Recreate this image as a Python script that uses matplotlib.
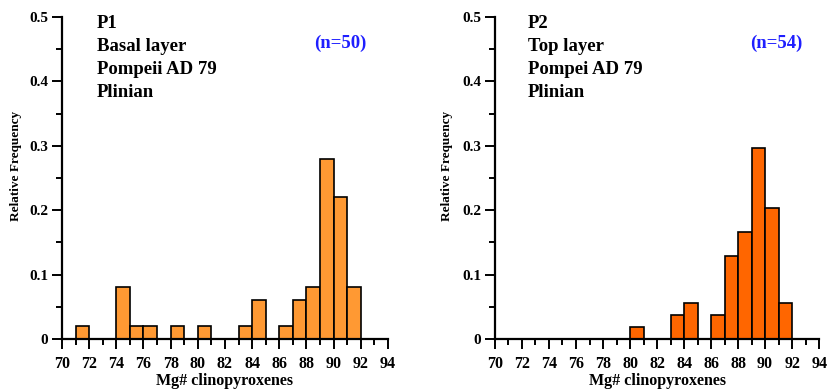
import numpy as np
import matplotlib
matplotlib.use("Agg")
import matplotlib.pyplot as plt
from matplotlib.ticker import MultipleLocator, FuncFormatter

plt.rcParams['font.family'] = ['Liberation Serif', 'DejaVu Serif']
plt.rcParams['font.weight'] = 'bold'

# Mg# bins (left edge, width 1) and relative frequencies
p1_bins = [71, 74, 75, 76, 78, 80, 83, 84, 86, 87, 88, 89, 90, 91]
p1_freq = [0.02, 0.08, 0.02, 0.02, 0.02, 0.02, 0.02, 0.06, 0.02, 0.06, 0.08, 0.28, 0.22, 0.08]

p2_bins = [80, 83, 84, 86, 87, 88, 89, 90, 91]
p2_freq = [1/54, 2/54, 3/54, 2/54, 7/54, 9/54, 16/54, 11/54, 3/54]

p1_text = ["P1", "Basal layer", "Pompeii AD 79", "Plinian"]
p2_text = ["P2", "Top layer", "Pompei AD 79", "Plinian"]
p1_n = "(n=50)"
p2_n = "(n=54)"

fig = plt.figure(figsize=(8.27, 3.91), dpi=100)
ax1 = fig.add_axes([0.075, 0.133, 0.394, 0.8235])
ax2 = fig.add_axes([0.5985, 0.133, 0.392, 0.8235])


def draw_panel(ax, bins, freq, color, lines, tx, ntext, nx, ylab_x):
    ax.bar(bins, freq, width=1, align='edge', color=color,
           edgecolor='black', linewidth=1.2, zorder=2)
    ax.set_xlim(70, 94)
    ax.set_ylim(0, 0.5)
    for s in ['top', 'right']:
        ax.spines[s].set_visible(False)
    for s in ['left', 'bottom']:
        ax.spines[s].set_linewidth(1.6)
    ax.xaxis.set_major_locator(MultipleLocator(2))
    ax.xaxis.set_minor_locator(MultipleLocator(1))
    ax.yaxis.set_major_locator(MultipleLocator(0.1))
    ax.yaxis.set_minor_locator(MultipleLocator(0.05))
    ax.tick_params(which='major', direction='out', length=7, width=1.4)
    ax.tick_params(which='minor', direction='out', length=4, width=1.4)
    ax.tick_params(axis='x', which='major', labelsize=11.5, pad=5)
    ax.tick_params(axis='y', which='major', labelsize=11, pad=3)
    ax.yaxis.set_major_formatter(
        FuncFormatter(lambda v, p: '0' if v == 0 else '%.1f' % v))
    ax.set_xlabel("Mg# clinopyroxenes", fontsize=11.5, fontweight='bold')
    ax.xaxis.set_label_coords(0.5, -0.106)
    ax.set_ylabel("Relative Frequency", fontsize=9.5, fontweight='bold')
    ax.yaxis.set_label_coords(ylab_x, 0.537)
    for i, t in enumerate(lines):
        ax.text(tx, 0.966 - i * 0.0714, t, transform=ax.transAxes,
                fontsize=13.5, fontweight='bold', va='baseline', ha='left')
    ax.text(nx, 0.905, ntext, transform=ax.transAxes, color='#1f1fff',
            fontsize=13.5, fontweight='bold', va='baseline', ha='center')


draw_panel(ax1, p1_bins, p1_freq, '#ff9933', p1_text, 0.107, p1_n, 0.853, -0.123)
draw_panel(ax2, p2_bins, p2_freq, '#ff6600', p2_text, 0.102, p2_n, 0.869, -0.13)

fig.savefig("out.png", dpi=100)
